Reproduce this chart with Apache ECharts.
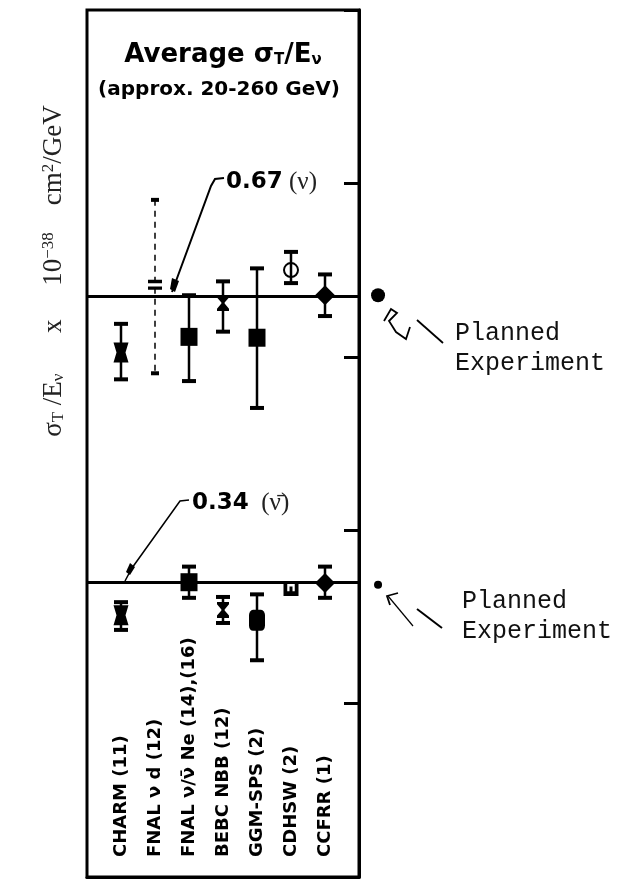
<!DOCTYPE html>
<html>
<head>
<meta charset="utf-8">
<script src="https://cdn.jsdelivr.net/npm/echarts@6/dist/echarts.min.js"></script>
<style>
  html, body { margin: 0; padding: 0; background: #fff; }
  #chart { width: 622px; height: 880px; }
</style>
</head>
<body>
<div id="chart"></div>
<script>
// experiments along the bottom (read bottom to top)
const names = ['CHARM (11)', 'FNAL ν d (12)', 'FNAL ν/ν̄ Ne (14),(16)', 'BEBC NBB (12)', 'GGM-SPS (2)', 'CDHSW (2)', 'CCFRR (1)'];

// neutrino sigma/E, with error bar ends
const nuVal  = [0.605, 0.683, 0.623, 0.662, 0.622, 0.700, 0.671];
const nuLow  = [0.574, 0.581, 0.572, 0.629, 0.541, 0.685, 0.647];
const nuHigh = [0.638, 0.781, 0.671, 0.687, 0.702, 0.721, 0.695];

// antineutrino sigma/E
const nubarVal  = [0.302, null, 0.340, 0.308, 0.296, 0.331, 0.339];
const nubarLow  = [0.285, null, 0.322, 0.293, 0.250, null, 0.322];
const nubarHigh = [0.317, null, 0.358, 0.323, 0.326, null, 0.358];

// averages and planned experiment
const nuAvg = 0.67;
const nubarAvg = 0.34;
const planX = 8.56;
const planVals = [0.671, 0.337];

// marker look for each point
const SYM = {
  bowtie:    { symbol: 'path://M0,0 L10,0 L8,5 L10,10 L0,10 L2,5 Z', size: [15, 20] },
  equal:     { symbol: 'path://M0,0 L10,0 L10,3 L0,3 Z M0,6 L10,6 L10,9 L0,9 Z', size: [14, 10] },
  square:    { symbol: 'rect', size: [17, 18] },
  hourglass: { symbol: 'path://M0,0 L10,0 L10,1.5 L6,5 L10,8.5 L10,10 L0,10 L0,8.5 L4,5 L0,1.5 Z', size: [12, 16] },
  phi:       { symbol: 'emptyCircle', size: 14, style: { color: '#000', borderColor: '#000', borderWidth: 3, opacity: 1 } },
  diamond:   { symbol: 'diamond', size: [20, 20] },
  blob:      { symbol: 'roundRect', size: [16, 21] },
  cup:       { symbol: 'path://M0,0 L2.5,0 L2.5,6 L4,6 L4,2 L6,2 L6,6 L7.5,6 L7.5,0 L10,0 L10,10 L0,10 Z', size: [15, 12] }
};
const nuMarks    = ['bowtie', 'equal', 'square', 'hourglass', 'square', 'phi', 'diamond'];
const nubarMarks = ['bowtie', null, 'square', 'hourglass', 'blob', 'cup', 'diamond'];

function points(vals, marks) {
  const out = [];
  vals.forEach((v, i) => {
    if (v == null) return;
    const s = SYM[marks[i]];
    out.push({ value: [i + 1, v], symbol: s.symbol, symbolSize: s.size, itemStyle: s.style || { color: '#000', opacity: 1 } });
  });
  return out;
}
function bars(lo, hi) {
  const out = [];
  lo.forEach((l, i) => {
    if (l == null) return;
    out.push([i + 1, l, hi[i], i === 1 ? 1 : 0]);
  });
  return out;
}

function renderErr(params, api) {
  const x = api.value(0);
  const top = api.coord([x, api.value(2)]);
  const bot = api.coord([x, api.value(1)]);
  const dashed = api.value(3) === 1;
  const w = dashed ? 4 : 7;
  return {
    type: 'group',
    children: [
      { type: 'line', shape: { x1: top[0], y1: top[1], x2: bot[0], y2: bot[1] },
        style: { stroke: '#000', lineWidth: dashed ? 1.5 : 2.5, lineDash: dashed ? [6, 5] : null } },
      { type: 'line', shape: { x1: top[0] - w, y1: top[1], x2: top[0] + w, y2: top[1] },
        style: { stroke: '#000', lineWidth: 4 } },
      { type: 'line', shape: { x1: bot[0] - w, y1: bot[1], x2: bot[0] + w, y2: bot[1] },
        style: { stroke: '#000', lineWidth: 4 } }
    ]
  };
}

const chart = echarts.init(document.getElementById('chart'));

const serif = '"Liberation Serif", "DejaVu Serif", serif';
const bold = '"DejaVu Sans", sans-serif';
const mono = '"Liberation Mono", "DejaVu Sans Mono", monospace';

const option = {
  animation: false,
  grid: { left: 87, top: 10, width: 272, height: 867, show: true, borderColor: '#000', borderWidth: 3 },
  xAxis: {
    type: 'value', min: 0, max: 8, interval: 1,
    axisLine: { show: true, onZero: false, lineStyle: { color: '#000', width: 3 } },
    axisTick: { show: false },
    splitLine: { show: false },
    axisLabel: {
      inside: true, rotate: 90, margin: 20,
      color: '#000', fontFamily: bold, fontWeight: 'bold', fontSize: 18,
      formatter: v => names[v - 1] || ''
    }
  },
  yAxis: {
    type: 'value', min: 0, max: 1, interval: 0.2, position: 'right',
    axisLine: { show: true, onZero: false, lineStyle: { color: '#000', width: 3 } },
    axisTick: { show: true, inside: true, length: 15, lineStyle: { color: '#000', width: 3 } },
    axisLabel: { show: false },
    splitLine: { show: false }
  },
  series: [
    {
      type: 'custom', renderItem: renderErr, z: 4,
      encode: { x: 0, y: [1, 2] },
      data: bars(nuLow, nuHigh).concat(bars(nubarLow, nubarHigh))
    },
    {
      type: 'scatter', z: 3,
      data: points(nuVal, nuMarks).concat(points(nubarVal, nubarMarks)),
      markLine: {
        silent: true, symbol: 'none', label: { show: false },
        lineStyle: { color: '#000', width: 3, type: 'solid', opacity: 1 },
        data: [{ yAxis: nuAvg }, { yAxis: nubarAvg }]
      }
    },
    {
      type: 'scatter', z: 3, clip: false,
      itemStyle: { color: '#000', opacity: 1 },
      data: [
        { value: [planX, planVals[0]], symbolSize: 14 },
        { value: [planX, planVals[1]], symbolSize: 8 }
      ]
    }
  ],
  graphic: [
    // title
    { type: 'text', x: 223, y: 55, style: {
      text: '{a|Average σ}{s|T}{a|/E}{s|ν}', align: 'center', verticalAlign: 'middle',
      rich: {
        a: { fontFamily: bold, fontWeight: 'bold', fontSize: 26, fill: '#000' },
        s: { fontFamily: bold, fontWeight: 'bold', fontSize: 15, fill: '#000', verticalAlign: 'bottom' }
      } } },
    { type: 'text', x: 219, y: 90, style: {
      text: '(approx. 20-260 GeV)', align: 'center', verticalAlign: 'middle',
      fontFamily: bold, fontWeight: 'bold', fontSize: 20, fill: '#000' } },
    // y axis name
    { type: 'text', x: 54, y: 271, rotation: Math.PI / 2, style: {
      text: '{a|σ}{s|T}{a| /E}{s|ν}{a|      x     10}{p|−38}{a|    cm}{p|2}{a|/GeV}',
      align: 'center', verticalAlign: 'middle',
      rich: {
        a: { fontFamily: serif, fontSize: 27, fill: '#222' },
        s: { fontFamily: serif, fontSize: 17, fill: '#222', verticalAlign: 'bottom' },
        p: { fontFamily: serif, fontSize: 17, fill: '#222', verticalAlign: 'top' }
      } } },
    // 0.67 annotation
    { type: 'text', x: 226, y: 182, style: {
      text: '{b|0.67}{n| (ν)}', verticalAlign: 'middle',
      rich: {
        b: { fontFamily: bold, fontWeight: 'bold', fontSize: 23, fill: '#000' },
        n: { fontFamily: serif, fontSize: 25, fill: '#222' }
      } } },
    { type: 'polyline', shape: { points: [[224, 178], [215, 179], [211, 186], [176, 281], [172, 292]] },
      style: { stroke: '#000', lineWidth: 2, fill: null } },
    { type: 'polygon', shape: { points: [[172, 278], [179, 281], [175, 292], [170, 289]] }, style: { fill: '#000' } },
    // 0.34 annotation
    { type: 'text', x: 192, y: 503, style: {
      text: '{b|0.34}{n|  (ν̄)}', verticalAlign: 'middle',
      rich: {
        b: { fontFamily: bold, fontWeight: 'bold', fontSize: 23, fill: '#000' },
        n: { fontFamily: serif, fontSize: 25, fill: '#222' }
      } } },
    { type: 'polyline', shape: { points: [[189, 500], [180, 501], [175, 508], [132, 568], [125, 581]] },
      style: { stroke: '#000', lineWidth: 1.5, fill: null } },
    { type: 'polygon', shape: { points: [[130, 563], [135, 567], [130, 575], [126, 572]] }, style: { fill: '#000' } },
    // planned experiment notes
    { type: 'polyline', shape: { points: [[384, 321], [391, 309], [397, 313], [389, 321], [396, 332], [406, 339], [410, 327]] },
      style: { stroke: '#000', lineWidth: 1.8, fill: null } },
    { type: 'line', shape: { x1: 417, y1: 320, x2: 443, y2: 343 }, style: { stroke: '#000', lineWidth: 1.8 } },
    { type: 'text', x: 455, y: 333, style: {
      text: 'Planned\nExperiment', fontFamily: mono, fontSize: 25, lineHeight: 30, fill: '#111',
      verticalAlign: 'top', y: -15 } },
    { type: 'polyline', shape: { points: [[398, 593], [387, 596], [390, 605]] },
      style: { stroke: '#000', lineWidth: 1.8, fill: null } },
    { type: 'line', shape: { x1: 388, y1: 596, x2: 413, y2: 626 }, style: { stroke: '#000', lineWidth: 1.2 } },
    { type: 'line', shape: { x1: 417, y1: 609, x2: 442, y2: 628 }, style: { stroke: '#000', lineWidth: 2 } },
    { type: 'text', x: 462, y: 601, style: {
      text: 'Planned\nExperiment', fontFamily: mono, fontSize: 25, lineHeight: 30, fill: '#111',
      verticalAlign: 'top', y: -15 } }
  ]
};

chart.setOption(option);
</script>
</body>
</html>
